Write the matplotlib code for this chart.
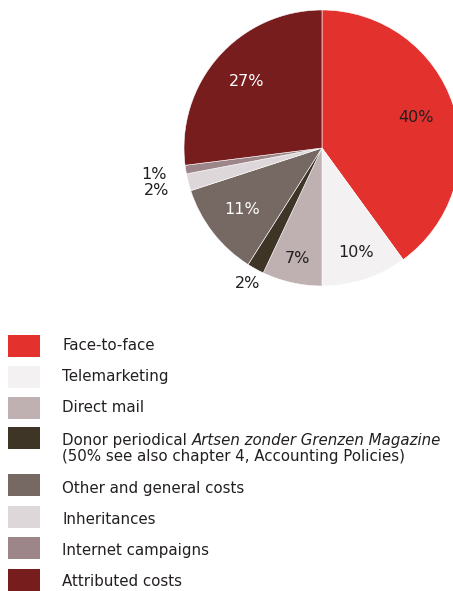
import matplotlib
matplotlib.use("Agg")
import matplotlib.pyplot as plt
from matplotlib.patches import Rectangle
import numpy as np

plt.rcParams['font.family'] = ['DejaVu Sans']

# Kostenverdeling werving (percentages)
categorieen = ["Face-to-face", "Telemarketing", "Direct mail", "Donor periodical",
               "Other and general costs", "Inheritances", "Internet campaigns",
               "Attributed costs"]
percentages = [40, 10, 7, 2, 11, 2, 1, 27]
kleuren = ["#E3312E", "#F3F1F2", "#BFB0B2", "#3F3526",
           "#766863", "#DDD7DA", "#9C868A", "#771D1E"]
label_kleur = ["#231F20", "#231F20", "#231F20", "#231F20",
               "white", "#231F20", "#231F20", "white"]
label_afstand = [0.72, 0.80, 0.82, 1.12, 0.73, 1.24, 1.23, 0.73]
label_tekst = [f"{p}%" for p in percentages]

W, H = 453, 591
fig = plt.figure(figsize=(W / 100, H / 100), dpi=100)

# taartdiagram, midden op (322, 148) px met straal 138 px
cx, cy, r = 322, 148, 138
ax = fig.add_axes([(cx - r) / W, (H - cy - r) / H, 2 * r / W, 2 * r / H])
wedges, _ = ax.pie(percentages, colors=kleuren, startangle=90, counterclock=False,
                   radius=1, wedgeprops=dict(edgecolor="white", linewidth=0.4))
ax.set_xlim(-1, 1)
ax.set_ylim(-1, 1)
ax.set_aspect("equal")
ax.axis("off")

for w, txt, d, c in zip(wedges, label_tekst, label_afstand, label_kleur):
    hoek = np.deg2rad((w.theta1 + w.theta2) / 2)
    ax.text(d * np.cos(hoek), d * np.sin(hoek), txt, ha="center", va="center",
            fontsize=11.5, color=c, clip_on=False)

# legenda in pixelcoordinaten
lg = fig.add_axes([0, 0, 1, 1])
lg.set_xlim(0, W)
lg.set_ylim(H, 0)
lg.axis("off")

fs = 10.8
rij_top = [335, 366, 397, 427, 474, 506, 537, 569]
tekst_y = [345, 376, 407, 440, 489, 520, 550, 582]
for i, (naam, kleur) in enumerate(zip(categorieen, kleuren)):
    lg.add_patch(Rectangle((8, rij_top[i]), 32, 22, facecolor=kleur, edgecolor="none"))
    if naam == "Donor periodical":
        t = lg.text(62, tekst_y[i], "Donor periodical ", fontsize=fs, color="#231F20",
                    va="center", ha="left")
        fig.canvas.draw()
        bb = t.get_window_extent()
        x_px = bb.x1 / fig.dpi * 100
        lg.text(x_px, tekst_y[i], "Artsen zonder Grenzen Magazine", fontsize=fs,
                style="italic", color="#231F20", va="center", ha="left")
        lg.text(62, tekst_y[i] + 16, "(50% see also chapter 4, Accounting Policies)",
                fontsize=fs, color="#231F20", va="center", ha="left")
    else:
        lg.text(62, tekst_y[i], naam, fontsize=fs, color="#231F20", va="center", ha="left")

fig.savefig("out.png", dpi=100)
